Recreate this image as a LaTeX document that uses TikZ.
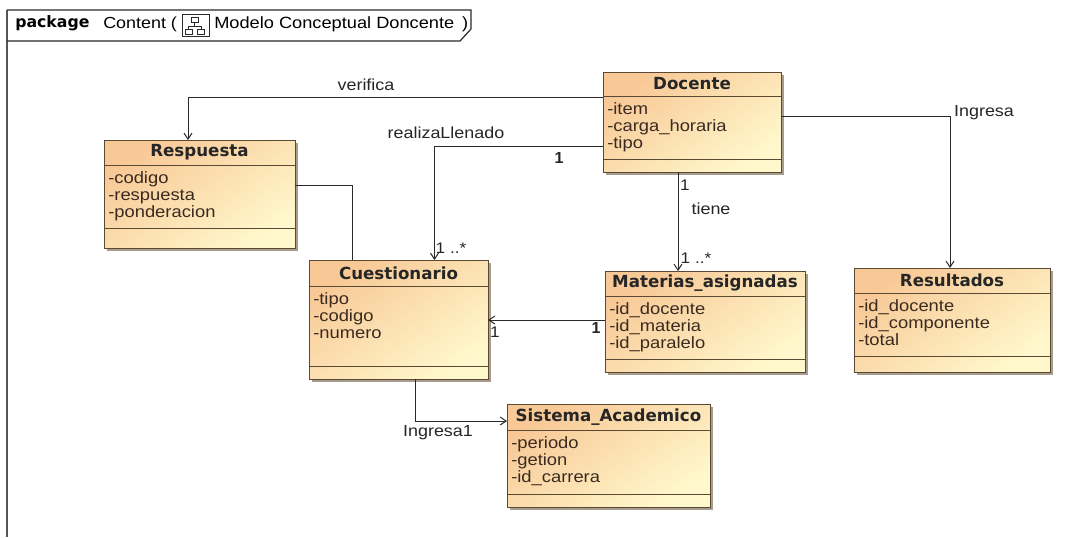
\documentclass[tikz,border=0pt]{standalone}
\usepackage{fontspec}
\setmainfont{Liberation Sans}
\newfontfamily\ttlfont{DejaVu Sans}
\newfontfamily\widefont[FakeStretch=1.12]{Liberation Sans}
\usetikzlibrary{arrows.meta}
\definecolor{framecol}{HTML}{2A2A2A}
\definecolor{sidecol}{HTML}{555555}
\definecolor{boxline}{HTML}{5A4A34}
\definecolor{shadowcol}{HTML}{A89C8C}
\definecolor{gradA}{HTML}{F8C896}
\definecolor{gradB}{HTML}{FFF8CC}
\definecolor{attrcol}{HTML}{3A2A20}
\tikzset{
  x=0.75pt,y=-0.75pt,
  classbox/.style={draw=boxline,line width=0.75pt,rectangle,inner sep=0pt,outer sep=0pt,anchor=north west,top color=gradA,bottom color=gradB,shading angle=35},
  classtitle/.style={font=\ttlfont\bfseries\fontsize{12.5pt}{14pt}\selectfont,text=black!85,inner sep=0pt},
  classattrs/.style={font=\widefont\fontsize{12.3pt}{12.75pt}\selectfont,text=attrcol,align=left,inner sep=0pt,anchor=north west},
  divider/.style={draw=boxline,line width=0.6pt},
  assoc/.style={draw=framecol,line width=0.75pt},
  assocarrow/.style={assoc,-{Straight Barb[length=4.5pt,width=6pt]}},
  lbl/.style={font=\widefont\fontsize{12pt}{14pt}\selectfont,inner sep=0pt,text=black!85},
  mult/.style={font=\bfseries\fontsize{12pt}{13pt}\selectfont,inner sep=0pt,text=black!85},
  multwide/.style={font=\widefont\fontsize{11.5pt}{12pt}\selectfont,inner sep=0pt,text=black!85},
}
% name, x1, y1, x2, y2, title line y, attr line y, title, attributes
\newcommand{\umlclass}[9]{%
  \fill[shadowcol] (#2+3,#3+3) rectangle (#4+3,#5+3);
  \pgfmathsetmacro{\bw}{(#4-(#2))*0.75}\pgfmathsetmacro{\bh}{(#5-(#3))*0.75}
  \node[classbox,minimum width=\bw pt,minimum height=\bh pt] (#1) at (#2,#3) {};
  \draw[divider] (#2,#6) -- (#4,#6);
  \draw[divider] (#2,#7) -- (#4,#7);
  \node[classtitle] (#1-title) at ({(#2+#4)/2},{(#3+#6)/2}) {#8};
  \node[classattrs] (#1-attrs) at (#2+4,#6+6) {#9};
}
\begin{document}
\begin{tikzpicture}
\useasboundingbox (0,0) rectangle (1075,537);
\fill[white] (0,0) rectangle (1075,537);
% frame
\draw[sidecol,line width=1.2pt] (7,537) -- (7,10);
\draw[framecol,line width=0.9pt] (7,10) -- (471,10) -- (471,29) -- (460,41) -- (7,41);
\node[font=\ttlfont\bfseries\fontsize{11.8pt}{13pt}\selectfont,inner sep=0pt,anchor=west] (pk) at (15,23) {package};
\node[font=\widefont\fontsize{12pt}{13pt}\selectfont,inner sep=0pt,anchor=west] (ct) at (103,24) {Content (};
\node[draw=framecol,line width=0.7pt,minimum width=20pt,minimum height=16.5pt,inner sep=0pt,anchor=north west] (ic) at (182,14) {};
\draw[framecol,line width=0.6pt] (191,17) rectangle (198,22) (194.5,22) -- (194.5,26) (188,26) -- (201,26) (188,26) -- (188,29) (201,26) -- (201,29) (185,29) rectangle (192,34) (197,29) rectangle (204,34);
\node[font=\widefont\fontsize{12.2pt}{13pt}\selectfont,inner sep=0pt,anchor=west] (mt) at (214,24) {Modelo Conceptual Doncente \,)};
% classes
\umlclass{docente}{603}{72}{781}{172}{96}{159}{Docente}{-item\\-carga\_horaria\\-tipo}
\umlclass{respuesta}{104}{140}{295}{248}{165}{228}{Respuesta}{-codigo\\-respuesta\\-ponderacion}
\umlclass{cuestionario}{309}{260}{488}{379}{286}{366}{Cuestionario}{-tipo\\-codigo\\-numero}
\umlclass{materias}{605}{271}{805}{372}{296}{359}{Materias\_asignadas}{-id\_docente\\-id\_materia\\-id\_paralelo}
\umlclass{resultados}{854}{268}{1050}{372}{293}{356}{Resultados}{-id\_docente\\-id\_componente\\-total}
\umlclass{sistema}{507}{404}{710}{507}{430}{494}{Sistema\_Academico}{-periodo\\-getion\\-id\_carrera}
% connectors
\draw[assocarrow] (docente.west |- 0,97) -| (188,0 |- respuesta.north);
\draw[assocarrow] (docente.west |- 0,146) -| (434.5,0 |- cuestionario.north);
\draw[assoc] (respuesta.east |- 0,185) -| (352,0 |- cuestionario.north);
\draw[assocarrow] (678,0 |- docente.south) -- (678,0 |- materias.north);
\draw[assocarrow] (docente.east |- 0,116) -| (950,0 |- resultados.north);
\draw[assocarrow] (materias.west |- 0,320) -- (cuestionario.east |- 0,320);
\draw[assocarrow] (415.5,0 |- cuestionario.south) |- (sistema.west |- 0,421);
% labels
\node[lbl] (l1) at (366,85) {verifica};
\node[lbl] (l2) at (446,133) {realizaLlenado};
\node[lbl] (l3) at (984,113) {Ingresa};
\node[lbl] (l4) at (711,209) {tiene};
\node[lbl] (l5) at (438,433) {Ingresa1};
\node[mult] (m1) at (559,158) {1};
\node[multwide] (m2) at (685,185) {1};
\node[multwide] (m3) at (696,258) {1 ..*};
\node[multwide] (m4) at (451,248) {1 ..*};
\node[multwide] (m5) at (495,332) {1};
\node[mult] (m6) at (596,328) {1};
\end{tikzpicture}
\end{document}
